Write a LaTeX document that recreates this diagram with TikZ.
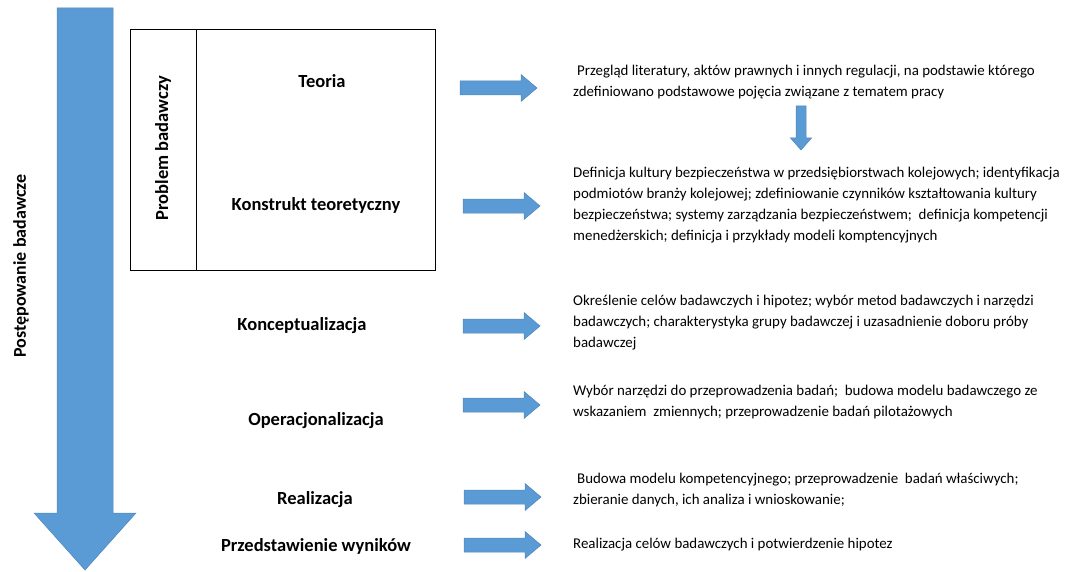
\documentclass[tikz,border=0pt]{standalone}
\usepackage{fontspec}
\setmainfont{Carlito}
\definecolor{arrowblue}{RGB}{91,155,213}
\definecolor{arrowedge}{RGB}{80,132,185}
\begin{document}
\begin{tikzpicture}[x=1pt,y=-1pt,
  blockarrow/.style={fill=arrowblue,draw=arrowedge,line width=0.5pt,line join=miter},
  stage/.style={font=\fontsize{18.5}{22}\selectfont\bfseries,inner sep=0pt},
  desc/.style={font=\fontsize{14.9}{21}\selectfont,align=left,anchor=north west,inner sep=0pt},
  rarrow/.pic={\path[blockarrow] (0,-7) -- (61,-7) -- (61,-13.5) -- (77,0) -- (61,13.5) -- (61,7) -- (0,7) -- cycle;},
  darrow/.pic={\path[blockarrow] (-5,0) -- (5,0) -- (5,32) -- (10.5,32) -- (0,44) -- (-10.5,32) -- (-5,32) -- cycle;}
]
\useasboundingbox (0,0) rectangle (1067,572);

% main process arrow
\path[blockarrow] (57,8) -- (113,8) -- (113,513) -- (136,513) -- (85,570) -- (34,513) -- (57,513) -- cycle;
\node[font=\fontsize{18}{22}\selectfont\bfseries,rotate=90,inner sep=0pt] (proc) at (21,266) {Postępowanie badawcze};

% research problem frame
\draw[line width=0.8pt] (130,29) rectangle (435,270);
\draw[line width=0.8pt] (196,29) -- (196,270);
\node[stage,rotate=90] (prob) at (163,148) {Problem badawczy};

% stages
\node[stage] (teoria) at (322,81) {Teoria};
\node[stage] (konstrukt) at (316,205) {Konstrukt teoretyczny};
\node[stage] (konc) at (302,326) {Konceptualizacja};
\node[stage] (oper) at (316,421) {Operacjonalizacja};
\node[stage] (real) at (315,500) {Realizacja};
\node[stage] (przed) at (316,546) {Przedstawienie wyników};

% arrows towards the descriptions
\pic at (460,88) {rarrow};
\pic at (463,206) {rarrow};
\pic at (463,326) {rarrow};
\pic at (463,405) {rarrow};
\pic at (464,497) {rarrow};
\pic at (464,545) {rarrow};
\pic at (801,106) {darrow};

% descriptions
\node[desc] (d1) at (573,65) {\hspace*{4pt}Przegląd literatury, aktów prawnych i innych regulacji, na podstawie którego\\zdefiniowano podstawowe pojęcia związane z tematem pracy};
\node[desc] (d2) at (573,167) {Definicja kultury bezpieczeństwa w przedsiębiorstwach kolejowych; identyfikacja\\podmiotów branży kolejowej; zdefiniowanie czynników kształtowania kultury\\bezpieczeństwa; systemy zarządzania bezpieczeństwem;\ \ definicja kompetencji\\menedżerskich; definicja i przykłady modeli komptencyjnych};
\node[desc] (d3) at (573,295) {Określenie celów badawczych i hipotez; wybór metod badawczych i narzędzi\\badawczych; charakterystyka grupy badawczej i uzasadnienie doboru próby\\badawczej};
\node[desc] (d4) at (573,385) {Wybór narzędzi do przeprowadzenia badań;\ \ budowa modelu badawczego ze\\wskazaniem\ \ zmiennych; przeprowadzenie badań pilotażowych};
\node[desc] (d5) at (573,473) {\hspace*{4pt}Budowa modelu kompetencyjnego; przeprowadzenie\ \ badań właściwych;\\zbieranie danych, ich analiza i wnioskowanie;};
\node[desc] (d6) at (573,538) {Realizacja celów badawczych i potwierdzenie hipotez};
\end{tikzpicture}
\end{document}
